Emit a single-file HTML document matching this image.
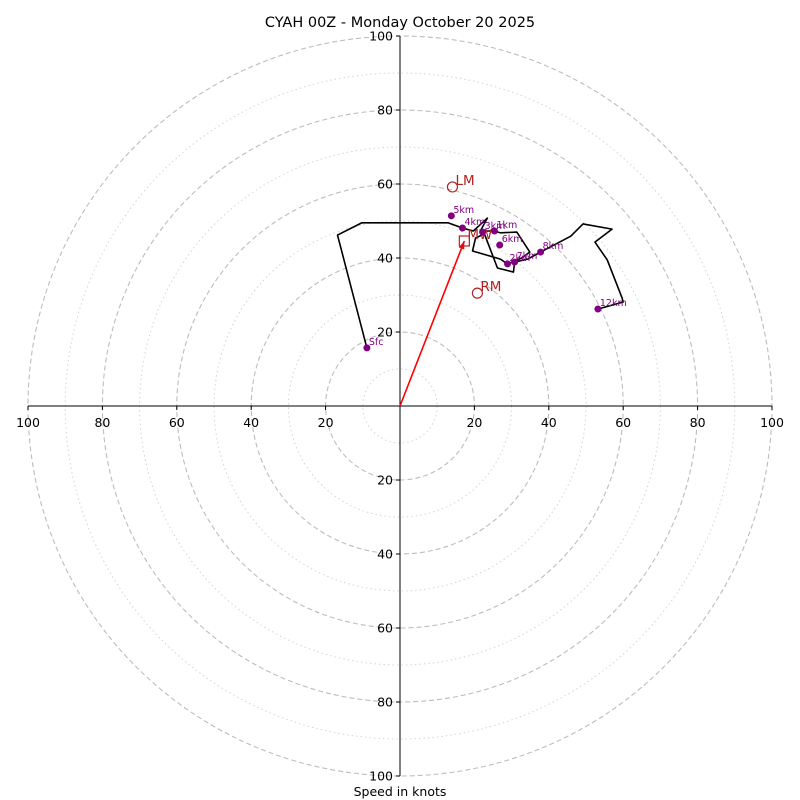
<!DOCTYPE html>
<html><head><meta charset="utf-8"><style>
html,body{margin:0;padding:0;background:#fff;}
svg{display:block;font-family:"DejaVu Sans","Liberation Sans",sans-serif;}
</style></head><body>
<svg id="chart" width="800" height="800" viewBox="0 0 800 800">
<rect width="800" height="800" fill="#fff"/>
<text x="400" y="27" text-anchor="middle" font-size="14.5">CYAH 00Z - Monday October 20 2025</text>
<text x="400" y="796" text-anchor="middle" font-size="12.5">Speed in knots</text>
<g id="rings"></g><g id="axes"></g><g id="series"></g>
</svg>
<script>
const ringValues=[10,20,30,40,50,60,70,80,90,100];
const tickValues=[20,40,60,80,100];
// wind profile (u,v knots)
const pathU=[-8.9,-16.8,-10.3,13,13.8,16.8,19.7,23.5,21.6,25.4,27,31.4,34.9,32.7,28.9,27,19.5,20.3,22.7,26.2,30.5,30.8,34.3,37.8,45.9,49.2,57,52.4,55.7,59.7,60,53.2];
const pathV=[15.7,46.2,49.5,49.5,49.2,48.1,47.3,50.8,47.3,47.3,46.8,47,41.6,40,38.4,39.7,41.9,45.4,46.5,37.3,36.2,38.9,39.7,41.6,45.9,49.2,47.8,44.3,39.5,29.2,28.1,26.2];
const markerLabels=["Sfc","1km","2km","3km","4km","5km","6km","7km","8km","12km"];
const markerU=[-8.9,25.4,28.9,22.2,16.8,13.8,26.8,30.8,37.8,53.2];
const markerV=[15.7,47.3,38.4,47,48.1,51.4,43.5,38.9,41.6,26.2];
const stormLabels=["LM","RM","MW"];
const stormU=[14.1,20.8,17.3];
const stormV=[59.2,30.5,44.6];
const cx=400,cy=406,RX=372,RY=370,maxV=100;
const sx=u=>cx+u/maxV*RX, sy=v=>cy-v/maxV*RY;
const NS="http://www.w3.org/2000/svg";
function mk(p,t,a){const e=document.createElementNS(NS,t);for(const k in a)e.setAttribute(k,a[k]);p.appendChild(e);return e;}
const rings=document.getElementById('rings');
ringValues.forEach(r=>{
 const c=mk(rings,'ellipse',{cx:cx,cy:cy,rx:r/maxV*RX,ry:r/maxV*RY,fill:'none',stroke:r%20===0?'#bdbdbd':'#d3d3d3','stroke-width':r%20===0?1.1:1,'stroke-dasharray':r%20===0?'5,3':'1.5,3'});
 
 
});
const ax=document.getElementById('axes');
let l=mk(ax,'line',{x1:cx,y1:sy(100),x2:cx,y2:sy(-100),stroke:'#000','stroke-width':1});


l=mk(ax,'line',{x1:sx(-100),y1:cy,x2:sx(100),y2:cy,stroke:'#000','stroke-width':1});


tickValues.forEach(t=>{
 [t,-t].forEach(s=>{
  mk(ax,'line',{x1:cx-4,y1:sy(s),x2:cx,y2:sy(s),stroke:'#000'});
  const ty=mk(ax,'text',{x:cx-7,y:sy(s)+4.5,'text-anchor':'end','font-size':12.5});
  ty.textContent=t;
  
  
  mk(ax,'line',{x1:sx(s),y1:cy,x2:sx(s),y2:cy+4,stroke:'#000'});
  const tx=mk(ax,'text',{x:sx(s),y:cy+21,'text-anchor':'middle','font-size':12.5});
  tx.textContent=t;
  
  
 });
});
const se=document.getElementById('series');
const pts=pathU.map((u,i)=>sx(u)+','+sy(pathV[i])).join(' ');
const pl=mk(se,'polyline',{points:pts,fill:'none',stroke:'#000','stroke-width':1.6,'stroke-linejoin':'round'});


const ar=mk(se,'line',{x1:cx,y1:cy,x2:sx(stormU[2]),y2:sy(stormV[2]),stroke:'#f00','stroke-width':1.6});


const ang=Math.atan2(sy(stormV[2])-cy,sx(stormU[2])-cx),hx=sx(stormU[2]),hy=sy(stormV[2]);
const ah=mk(se,'polygon',{points:`${hx},${hy} ${hx-8*Math.cos(ang)+3*Math.sin(ang)},${hy-8*Math.sin(ang)-3*Math.cos(ang)} ${hx-8*Math.cos(ang)-3*Math.sin(ang)},${hy-8*Math.sin(ang)+3*Math.cos(ang)}`,fill:'#f00'});


stormLabels.forEach((n,i)=>{
 const x=sx(stormU[i]),y=sy(stormV[i]);
 let m;
 if(n==='MW'){m=mk(se,'rect',{x:x-5,y:y-5,width:10,height:10,fill:'none',stroke:'#b22222','stroke-width':1.2});}
 else{m=mk(se,'circle',{cx:x,cy:y,r:5,fill:'none',stroke:'#b22222','stroke-width':1.2});}
 
 
 const t=mk(se,'text',{x:x+3,y:y-2,'font-size':13.5,fill:'#b22222'});
 t.textContent=n;
 
 
});
markerLabels.forEach((n,i)=>{
 const x=sx(markerU[i]),y=sy(markerV[i]);
 const c=mk(se,'circle',{cx:x,cy:y,r:3.5,fill:'#800080'});
 
 
 const t=mk(se,'text',{x:x+2,y:y-3,'font-size':9.5,fill:'#800080'});
 t.textContent=n;
 
 
});
</script>
</body></html>
